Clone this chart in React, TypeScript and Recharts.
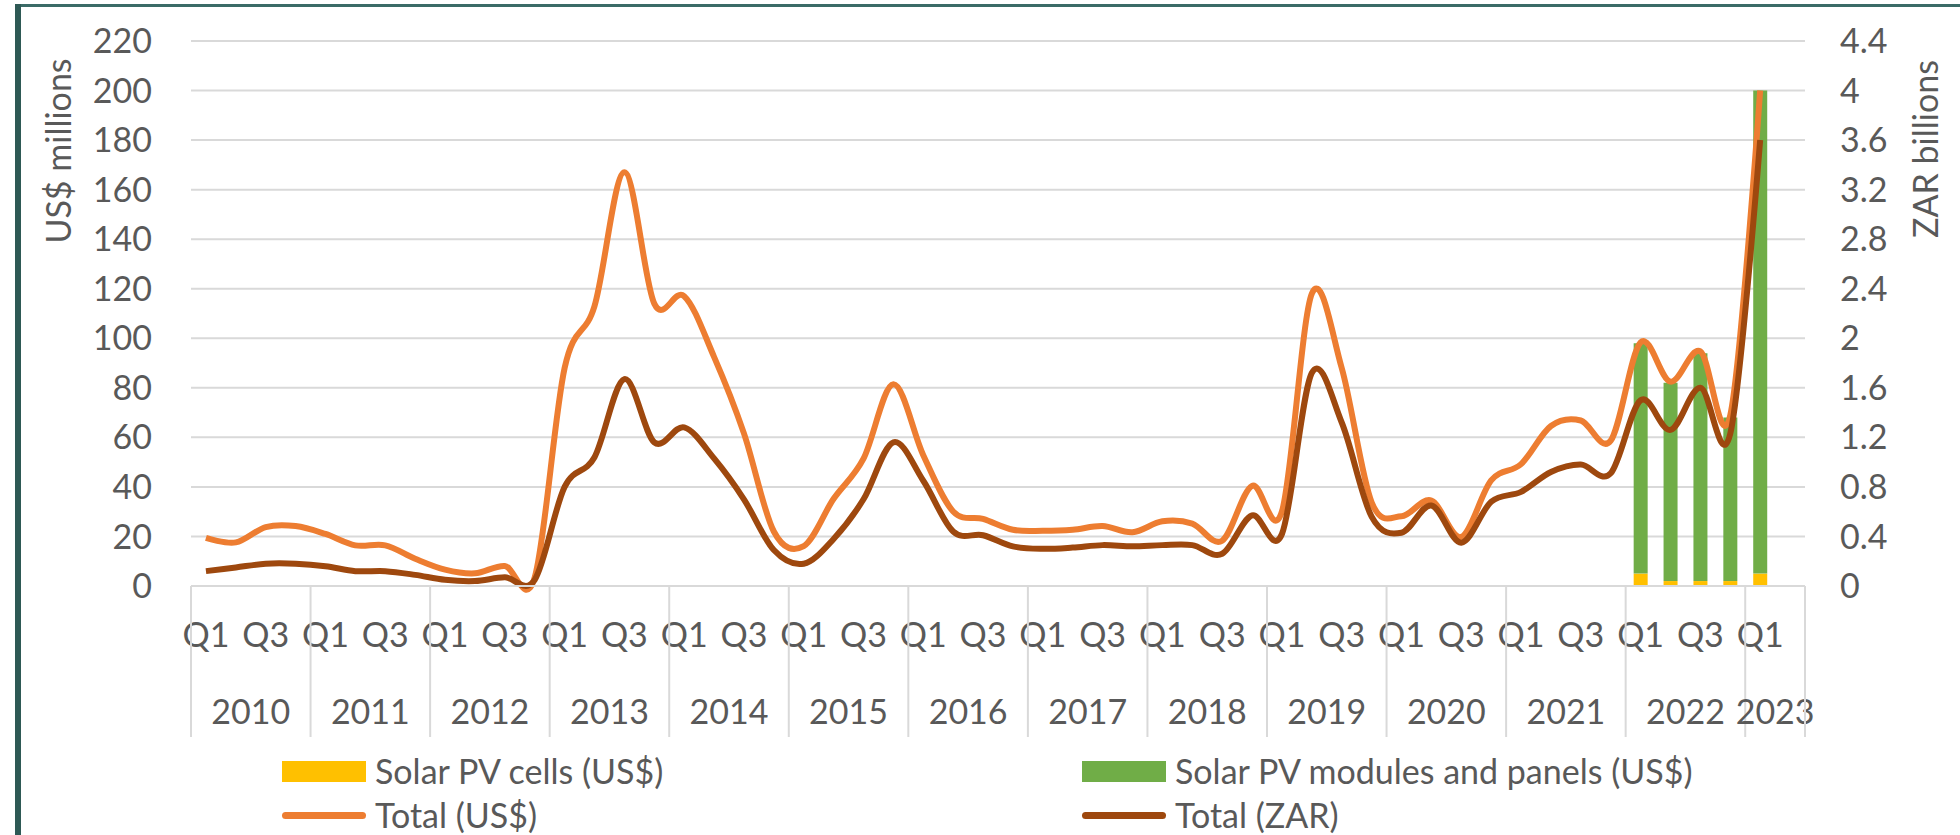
import React from "react";
import {
  ComposedChart,
  Bar,
  Line,
  XAxis,
  YAxis,
  CartesianGrid,
  Legend,
} from "recharts";

const years = [
  "2010", "2011", "2012", "2013", "2014", "2015", "2016",
  "2017", "2018", "2019", "2020", "2021", "2022", "2023",
];

const quarterNames = ["Q1", "Q2", "Q3", "Q4"];

// 2023 only has Q1, plus one blank slot at the end of the axis
const lastYearQuarters = ["Q1", ""];

// Total (US$ millions), 2010 Q1 .. 2023 Q1
const totalUsd = [
  19.4, 17.6, 23.8, 24.2,
  21, 16.4, 16.4, 11,
  6.6, 5.1, 8.1, 3.5,
  88, 113, 167, 114,
  117, 92.5, 61.6, 22,
  16.1, 35.2, 51.4, 81.4,
  52.8, 30.1, 27.1, 22.7,
  22.3, 22.7, 24.2, 21.7,
  26.1, 25.2, 18.3, 40.4,
  30.1, 118, 88, 33.8,
  28.2, 34.5, 19.8, 42.6,
  49.2, 64.6, 66.8, 58.7,
  98.3, 82.5, 94.7, 69,
  200,
];

// Total (ZAR billions), 2010 Q1 .. 2023 Q1
const totalZar = [
  0.12, 0.15, 0.18, 0.18,
  0.16, 0.12, 0.12, 0.09,
  0.05, 0.04, 0.07, 0.05,
  0.8, 1.04, 1.67, 1.16,
  1.28, 1.03, 0.7, 0.29,
  0.18, 0.38, 0.7, 1.16,
  0.85, 0.44, 0.41, 0.32,
  0.3, 0.31, 0.33, 0.32,
  0.33, 0.33, 0.26, 0.57,
  0.42, 1.72, 1.32, 0.56,
  0.43, 0.65, 0.35, 0.68,
  0.76, 0.92, 0.98, 0.91,
  1.5, 1.26, 1.6, 1.23,
  3.6,
];

// bars only exist from 2022 Q1 onwards
const barStart = { year: "2022", q: "Q1" };
const cellsUsd = [5, 2, 2, 2, 5];
const modulesUsd = [93, 80, 92, 66, 195];

const usdTicks = [0, 20, 40, 60, 80, 100, 120, 140, 160, 180, 200, 220];
const zarTicks = [0, 0.4, 0.8, 1.2, 1.6, 2, 2.4, 2.8, 3.2, 3.6, 4, 4.4];

const FONT = "Lato, 'Open Sans', sans-serif";
const TEXT = "#595959";
const GRID = "#D9D9D9";

type Row = {
  year: string;
  q: string;
  usd?: number;
  zar?: number;
  cells?: number;
  modules?: number;
};

const rows: Row[] = [];
years.forEach((y) => {
  const qs = y === "2023" ? lastYearQuarters : quarterNames;
  qs.forEach((q) => rows.push({ year: y, q }));
});
rows.forEach((r, i) => {
  if (i < totalUsd.length) r.usd = totalUsd[i];
  if (i < totalZar.length) r.zar = totalZar[i];
});
const b0 = rows.findIndex((r) => r.year === barStart.year && r.q === barStart.q);
cellsUsd.forEach((v, k) => {
  rows[b0 + k].cells = v;
  rows[b0 + k].modules = modulesUsd[k];
});

// Catmull-Rom style smoothing like Excel's "smoothed line"
function smoothCurve(context: any) {
  const k = 1 / 6;
  let x0: number, x1: number, x2: number, y0: number, y1: number, y2: number;
  let pt = 0;
  let line = NaN;
  const seg = (x: number, y: number) => {
    context.bezierCurveTo(
      x1 + k * (x2 - x0),
      y1 + k * (y2 - y0),
      x2 + k * (x1 - x),
      y2 + k * (y1 - y),
      x2,
      y2
    );
  };
  return {
    areaStart() {
      line = 0;
    },
    areaEnd() {
      line = NaN;
    },
    lineStart() {
      x0 = x1 = x2 = y0 = y1 = y2 = NaN;
      pt = 0;
    },
    lineEnd() {
      if (pt === 2) context.lineTo(x2, y2);
      else if (pt === 3) seg(x1, y1);
      if (line || (line !== 0 && pt === 1)) context.closePath();
      line = 1 - line;
    },
    point(x: number, y: number) {
      x = +x;
      y = +y;
      if (pt === 0) {
        pt = 1;
        line ? context.lineTo(x, y) : context.moveTo(x, y);
      } else if (pt === 1) {
        pt = 2;
        x1 = x;
        y1 = y;
      } else {
        pt = 3;
        seg(x, y);
      }
      x0 = x1;
      x1 = x2;
      x2 = x;
      y0 = y1;
      y1 = y2;
      y2 = y;
    },
  };
}

function CategoryTick(props: any) {
  const { x, y, payload } = props;
  const i = payload.index;
  const row = rows[i];
  const bw = payload.offset ? payload.offset * 2 : 29.9;
  const first = i === 0 || rows[i - 1].year !== row.year;
  const n = rows.filter((r) => r.year === row.year).length;
  const left = x - bw / 2;
  const showQ = row.q === "Q1" || row.q === "Q3";
  return (
    <g>
      {showQ && (
        <text
          x={x}
          y={y + 49}
          dy="0.35em"
          textAnchor="middle"
          fill={TEXT}
          fontSize={34}
          fontFamily={FONT}
        >
          {row.q}
        </text>
      )}
      {first && (
        <>
          <line x1={left} y1={y} x2={left} y2={y + 151} stroke={GRID} strokeWidth={2} />
          <text
            x={left + (n * bw) / 2}
            y={y + 126}
            dy="0.35em"
            textAnchor="middle"
            fill={TEXT}
            fontSize={34}
            fontFamily={FONT}
          >
            {row.year}
          </text>
        </>
      )}
      {i === rows.length - 1 && (
        <line x1={x + bw / 2} y1={y} x2={x + bw / 2} y2={y + 151} stroke={GRID} strokeWidth={2} />
      )}
    </g>
  );
}

function AxisTitle(props: any) {
  const { viewBox, text, dx, dy } = props;
  const cx = viewBox.x + dx;
  const cy = viewBox.y + dy;
  return (
    <text
      x={cx}
      y={cy}
      dy="0.35em"
      textAnchor="middle"
      transform={`rotate(-90, ${cx}, ${cy})`}
      fill={TEXT}
      fontSize={34}
      fontFamily={FONT}
    >
      {text}
    </text>
  );
}

const legendItems = [
  { label: "Solar PV cells (US$)", color: "#FFC000", kind: "rect", left: 282, top: 3 },
  { label: "Solar PV modules and panels (US$)", color: "#70AD47", kind: "rect", left: 1082, top: 3 },
  { label: "Total (US$)", color: "#ED7D31", kind: "line", left: 282, top: 47 },
  { label: "Total (ZAR)", color: "#9E480E", kind: "line", left: 1082, top: 47 },
];

function LegendBox() {
  return (
    <div style={{ position: "relative", width: 1960, height: 85, fontFamily: FONT }}>
      {legendItems.map((it) => (
        <div
          key={it.label}
          style={{
            position: "absolute",
            left: it.left,
            top: it.top,
            height: 36,
            display: "flex",
            alignItems: "center",
          }}
        >
          <div
            style={{
              width: 84,
              height: it.kind === "rect" ? 21 : 7,
              borderRadius: it.kind === "line" ? 4 : 0,
              background: it.color,
            }}
          />
          <span
            style={{
              marginLeft: 9,
              fontSize: 34,
              lineHeight: "36px",
              color: TEXT,
              whiteSpace: "nowrap",
            }}
          >
            {it.label}
          </span>
        </div>
      ))}
    </div>
  );
}

export default function App() {
  return (
    <div
      style={{
        position: "absolute",
        left: 0,
        top: 0,
        width: 1960,
        height: 835,
        background: "#fff",
        overflow: "hidden",
      }}
    >
      <div style={{ position: "absolute", left: 15, top: 4, width: 1945, height: 3, background: "#3B6B67" }} />
      <div style={{ position: "absolute", left: 15, top: 4, width: 6, height: 831, background: "#2E5955" }} />

      <ComposedChart
        width={1960}
        height={835}
        data={rows}
        margin={{ top: 41, right: 0, bottom: 89, left: 0 }}
        style={{ position: "absolute", left: 0, top: 0 }}
      >
        <CartesianGrid yAxisId="left" vertical={false} stroke={GRID} strokeWidth={2} />
        <XAxis
          dataKey="q"
          interval={0}
          height={160}
          tickSize={0}
          tickMargin={0}
          tickLine={false}
          axisLine={{ stroke: GRID, strokeWidth: 2 }}
          tick={<CategoryTick />}
        />
        <YAxis
          yAxisId="left"
          width={191}
          domain={[0, 220]}
          ticks={usdTicks}
          tickSize={0}
          tickMargin={39}
          tickLine={false}
          axisLine={false}
          tick={{ fill: TEXT, fontSize: 34, fontFamily: FONT }}
          label={<AxisTitle text="US$ millions" dx={59} dy={110} />}
        />
        <YAxis
          yAxisId="right"
          orientation="right"
          width={155}
          domain={[0, 4.4]}
          ticks={zarTicks}
          tickSize={0}
          tickMargin={35}
          tickLine={false}
          axisLine={false}
          tick={{ fill: TEXT, fontSize: 34, fontFamily: FONT, textAnchor: "start" }}
          label={<AxisTitle text="ZAR billions" dx={121} dy={108} />}
        />
        <Bar yAxisId="left" dataKey="cells" stackId="a" fill="#FFC000" barSize={14} isAnimationActive={false} />
        <Bar yAxisId="left" dataKey="modules" stackId="a" fill="#70AD47" barSize={14} isAnimationActive={false} />
        <Line
          yAxisId="left"
          dataKey="usd"
          type={smoothCurve as any}
          stroke="#ED7D31"
          strokeWidth={6}
          dot={false}
          activeDot={false}
          isAnimationActive={false}
        />
        <Line
          yAxisId="right"
          dataKey="zar"
          type={smoothCurve as any}
          stroke="#9E480E"
          strokeWidth={6}
          dot={false}
          activeDot={false}
          isAnimationActive={false}
        />
        <Legend
          layout="horizontal"
          verticalAlign="middle"
          align="center"
          content={() => <LegendBox />}
          wrapperStyle={{ top: 750, left: 0, width: 1960, height: 85 }}
        />
      </ComposedChart>
    </div>
  );
}
